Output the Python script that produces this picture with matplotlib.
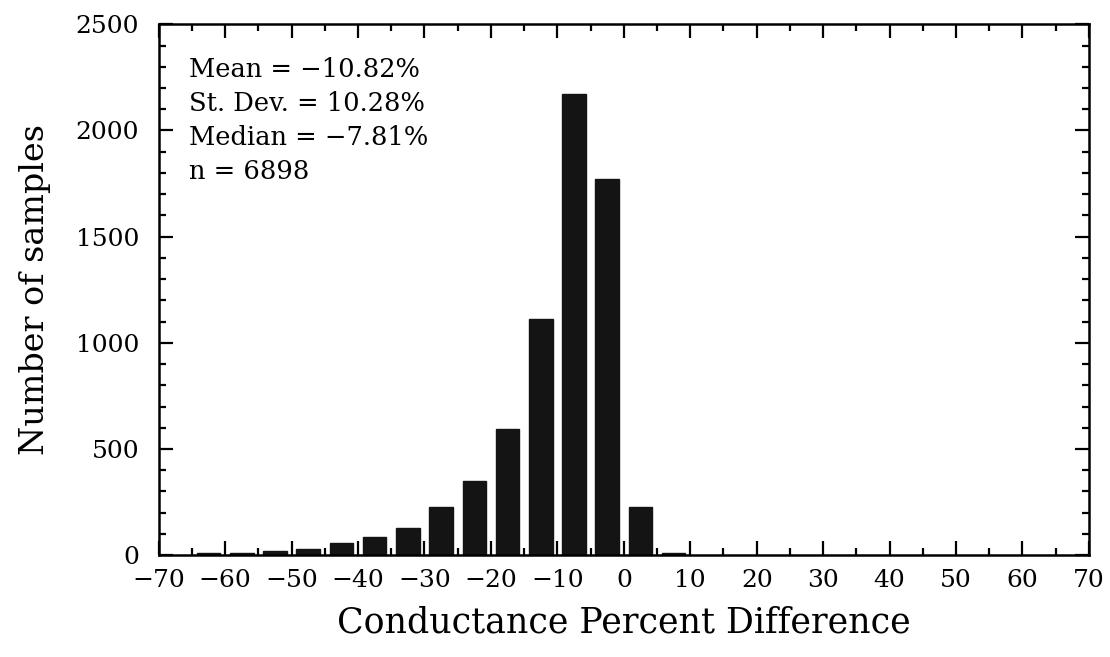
import numpy as np
import matplotlib.pyplot as plt
from matplotlib.ticker import MultipleLocator

# histogram bins (centers, 5% wide) and counts
bin_centers = [-62.5, -57.5, -52.5, -47.5, -42.5, -37.5, -32.5, -27.5,
               -22.5, -17.5, -12.5, -7.5, -2.5, 2.5, 7.5]
counts = [9, 11, 19, 31, 58, 86, 129, 227, 348, 593, 1111, 2172, 1770, 227, 9]

stats_lines = ['Mean = \u221210.82%', 'St. Dev. = 10.28%',
               'Median = \u22127.81%', 'n = 6898']
xticks = list(range(-70, 71, 10))
yticks = [0, 500, 1000, 1500, 2000, 2500]

plt.rcParams['font.family'] = ['DejaVu Serif']
plt.rcParams['axes.unicode_minus'] = True

fig = plt.figure(figsize=(11.1, 6.57), dpi=100)
ax = fig.add_axes([0.143, 0.155, 0.838, 0.808])

ax.bar(bin_centers, counts, width=3.55, color='#141414', edgecolor='#141414')

ax.set_xlim(-70, 70)
ax.set_ylim(0, 2500)
ax.set_xticks(xticks)
ax.set_xticklabels([str(t).replace('-', '\u2212') for t in xticks])
ax.set_yticks(yticks)
ax.xaxis.set_minor_locator(MultipleLocator(5))
ax.yaxis.set_minor_locator(MultipleLocator(100))
ax.tick_params(axis='x', which='both', direction='in', top=True,
               width=1.6, labelsize=18, pad=10)
ax.tick_params(axis='y', which='both', direction='in', right=True,
               width=1.6, labelsize=18, pad=14)
ax.tick_params(which='major', length=10)
ax.tick_params(which='minor', length=5)
for sp in ax.spines.values():
    sp.set_linewidth(1.8)

ax.set_xlabel('Conductance Percent Difference', fontsize=25, labelpad=10)
ax.set_ylabel('Number of samples', fontsize=24, labelpad=18)

for i, line in enumerate(stats_lines):
    ax.text(0.033, 0.915 - i * 0.064, line, transform=ax.transAxes,
            fontsize=18.5, va='center', ha='left')

fig.savefig('out.png', dpi=100)
